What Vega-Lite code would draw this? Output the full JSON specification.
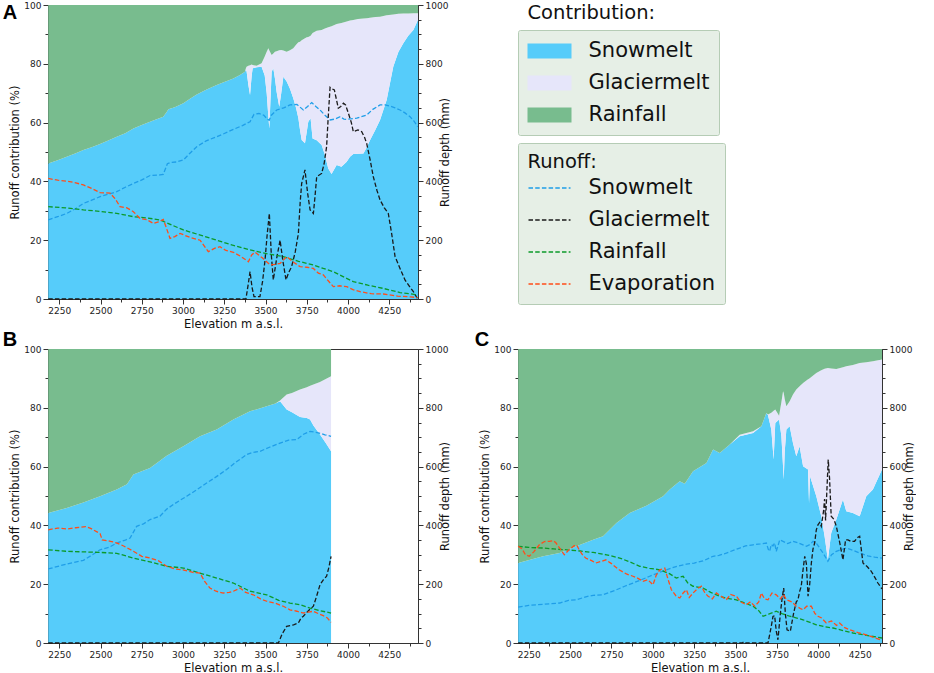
{
  "$schema": "https://vega.github.io/schema/vega-lite/v6.json",
  "padding": {"left": 2, "top": 0, "right": 0, "bottom": 0},
  "config": {
    "font": "DejaVu Sans",
    "view": {"stroke": "#333", "strokeWidth": 1},
    "axis": {"grid": false, "domainColor": "#333", "tickColor": "#333", "labelColor": "#222", "titleColor": "#111",
      "labelFont": "DejaVu Sans", "titleFont": "DejaVu Sans", "labelFontSize": 9, "titleFontSize": 11.5,
      "titleFontWeight": "normal", "labelPadding": 2, "titlePadding": 3, "labelFlush": false, "labelOverlap": false},
    "legend": {"fillColor": "#e6efe6", "strokeColor": "#b5ccb5", "cornerRadius": 2, "padding": 9.5,
      "labelFont": "DejaVu Sans", "titleFont": "DejaVu Sans", "labelFontSize": 21, "titleFontSize": 19.5,
      "titleFontWeight": "normal", "labelColor": "#111", "titleColor": "#111", "labelLimit": 0, "symbolOpacity": 1},
    "title": {"font": "Liberation Sans", "fontSize": 20, "fontWeight": "bold", "anchor": "start", "frame": "bounds",
      "baseline": "alphabetic", "offset": 0, "color": "#000"},
    "line": {"strokeDash": [4.5, 2.2], "strokeWidth": 1.3}
  },
  "datasets": {
    "areas": [
      {"p":"A","e":2183,"s":46.1,"t":46.1},{"p":"A","e":2240,"s":47.2,"t":47.2},{"p":"A","e":2295,"s":48.4,"t":48.4},
      {"p":"A","e":2350,"s":49.6,"t":49.6},{"p":"A","e":2396,"s":50.7,"t":50.7},{"p":"A","e":2450,"s":51.7,"t":51.7},
      {"p":"A","e":2497,"s":52.7,"t":52.7},{"p":"A","e":2550,"s":54.0,"t":54.0},{"p":"A","e":2598,"s":55.2,"t":55.2},
      {"p":"A","e":2650,"s":56.4,"t":56.4},{"p":"A","e":2699,"s":58.0,"t":58.0},{"p":"A","e":2750,"s":59.2,"t":59.2},
      {"p":"A","e":2800,"s":60.3,"t":60.3},{"p":"A","e":2880,"s":62.0,"t":62.0},{"p":"A","e":2900,"s":63.5,"t":63.5},
      {"p":"A","e":2911,"s":64.5,"t":64.5},{"p":"A","e":2950,"s":65.2,"t":65.2},{"p":"A","e":3002,"s":66.6,"t":66.6},
      {"p":"A","e":3040,"s":68.0,"t":68.0},{"p":"A","e":3083,"s":69.6,"t":69.6},{"p":"A","e":3140,"s":71.2,"t":71.2},
      {"p":"A","e":3204,"s":72.8,"t":72.8},{"p":"A","e":3250,"s":73.8,"t":73.8},{"p":"A","e":3305,"s":75.0,"t":75.0},
      {"p":"A","e":3345,"s":76.2,"t":76.2},{"p":"A","e":3375,"s":77.3,"t":77.3},{"p":"A","e":3381,"s":77.9,"t":78.5},
      {"p":"A","e":3385,"s":77.5,"t":79.0},{"p":"A","e":3396,"s":72.8,"t":79.3},{"p":"A","e":3406,"s":69.4,"t":79.5},
      {"p":"A","e":3416,"s":76.0,"t":79.8},{"p":"A","e":3422,"s":78.5,"t":79.6},{"p":"A","e":3446,"s":78.8,"t":79.3},
      {"p":"A","e":3476,"s":79.0,"t":80.2},{"p":"A","e":3495,"s":76.0,"t":82.5},{"p":"A","e":3507,"s":70.0,"t":84.1},
      {"p":"A","e":3517,"s":62.0,"t":85.3},{"p":"A","e":3523,"s":58.0,"t":84.5},{"p":"A","e":3530,"s":68.0,"t":83.8},
      {"p":"A","e":3537,"s":77.3,"t":83.0},{"p":"A","e":3547,"s":78.5,"t":83.5},{"p":"A","e":3557,"s":75.0,"t":84.1},
      {"p":"A","e":3567,"s":70.5,"t":84.3},{"p":"A","e":3583,"s":65.4,"t":84.6},{"p":"A","e":3595,"s":70.0,"t":84.7},
      {"p":"A","e":3608,"s":75.6,"t":84.5},{"p":"A","e":3628,"s":74.0,"t":84.1},{"p":"A","e":3648,"s":71.5,"t":84.6},
      {"p":"A","e":3668,"s":68.3,"t":85.3},{"p":"A","e":3685,"s":65.0,"t":86.5},{"p":"A","e":3699,"s":61.5,"t":87.3},
      {"p":"A","e":3709,"s":57.5,"t":87.5},{"p":"A","e":3719,"s":54.1,"t":88.0},{"p":"A","e":3739,"s":53.0,"t":88.7},
      {"p":"A","e":3750,"s":57.0,"t":89.0},{"p":"A","e":3759,"s":60.3,"t":89.1},{"p":"A","e":3773,"s":61.5,"t":89.5},
      {"p":"A","e":3785,"s":54.6,"t":90.5},{"p":"A","e":3810,"s":54.0,"t":91.2},{"p":"A","e":3840,"s":52.4,"t":91.5},
      {"p":"A","e":3860,"s":49.0,"t":92.0},{"p":"A","e":3880,"s":44.4,"t":92.4},{"p":"A","e":3900,"s":42.5,"t":92.8},
      {"p":"A","e":3931,"s":45.6,"t":93.5},{"p":"A","e":3960,"s":45.0,"t":93.9},{"p":"A","e":3992,"s":46.7,"t":94.4},
      {"p":"A","e":4012,"s":48.4,"t":94.7},{"p":"A","e":4032,"s":49.3,"t":94.9},{"p":"A","e":4060,"s":49.4,"t":95.2},
      {"p":"A","e":4093,"s":49.5,"t":95.4},{"p":"A","e":4113,"s":51.5,"t":95.5},{"p":"A","e":4133,"s":54.0,"t":95.7},
      {"p":"A","e":4165,"s":57.5,"t":95.9},{"p":"A","e":4194,"s":60.9,"t":96.0},{"p":"A","e":4234,"s":67.7,"t":96.5},
      {"p":"A","e":4274,"s":79.0,"t":96.8},{"p":"A","e":4305,"s":84.0,"t":97.0},{"p":"A","e":4335,"s":87.0,"t":97.1},
      {"p":"A","e":4365,"s":89.5,"t":97.1},{"p":"A","e":4396,"s":91.5,"t":97.2},{"p":"A","e":4424,"s":95.0,"t":97.2},

      {"p":"B","e":2183,"s":44.2,"t":44.2},{"p":"B","e":2295,"s":45.9,"t":45.9},{"p":"B","e":2396,"s":47.8,"t":47.8},
      {"p":"B","e":2497,"s":49.9,"t":49.9},{"p":"B","e":2598,"s":52.2,"t":52.2},{"p":"B","e":2660,"s":54.0,"t":54.0},
      {"p":"B","e":2699,"s":57.3,"t":57.3},{"p":"B","e":2800,"s":59.5,"t":59.5},{"p":"B","e":2901,"s":63.7,"t":63.7},
      {"p":"B","e":3002,"s":66.9,"t":66.9},{"p":"B","e":3103,"s":70.3,"t":70.3},{"p":"B","e":3204,"s":72.6,"t":72.6},
      {"p":"B","e":3305,"s":76.0,"t":76.0},{"p":"B","e":3406,"s":78.8,"t":78.8},{"p":"B","e":3507,"s":80.5,"t":80.5},
      {"p":"B","e":3560,"s":81.5,"t":81.5},{"p":"B","e":3588,"s":82.2,"t":82.5},{"p":"B","e":3628,"s":79.4,"t":84.5},
      {"p":"B","e":3660,"s":78.5,"t":85.0},{"p":"B","e":3709,"s":76.9,"t":86.2},{"p":"B","e":3750,"s":76.5,"t":87.0},
      {"p":"B","e":3770,"s":76.0,"t":87.5},{"p":"B","e":3790,"s":74.0,"t":87.9},{"p":"B","e":3830,"s":70.9,"t":88.8},
      {"p":"B","e":3865,"s":68.0,"t":89.8},{"p":"B","e":3897,"s":65.2,"t":90.7},

      {"p":"C","e":2186,"s":27.2,"t":27.2},{"p":"C","e":2337,"s":29.5,"t":29.5},{"p":"C","e":2437,"s":30.6,"t":30.6},
      {"p":"C","e":2538,"s":32.9,"t":32.9},{"p":"C","e":2639,"s":35.1,"t":35.1},{"p":"C","e":2699,"s":36.3,"t":36.3},
      {"p":"C","e":2780,"s":40.8,"t":40.8},{"p":"C","e":2860,"s":44.2,"t":44.2},{"p":"C","e":2961,"s":46.7,"t":46.7},
      {"p":"C","e":3062,"s":49.9,"t":49.9},{"p":"C","e":3102,"s":52.2,"t":52.2},{"p":"C","e":3162,"s":55.0,"t":55.0},
      {"p":"C","e":3193,"s":54.2,"t":54.2},{"p":"C","e":3243,"s":58.4,"t":58.4},{"p":"C","e":3324,"s":61.2,"t":61.2},
      {"p":"C","e":3364,"s":65.8,"t":65.8},{"p":"C","e":3404,"s":64.6,"t":64.6},{"p":"C","e":3465,"s":67.5,"t":67.5},
      {"p":"C","e":3525,"s":70.3,"t":70.8},{"p":"C","e":3606,"s":71.4,"t":72.0},{"p":"C","e":3656,"s":73.7,"t":73.7},
      {"p":"C","e":3686,"s":78.2,"t":78.2},{"p":"C","e":3696,"s":77.5,"t":77.7},{"p":"C","e":3716,"s":72.6,"t":78.3},
      {"p":"C","e":3730,"s":62.4,"t":79.0},{"p":"C","e":3740,"s":74.8,"t":79.4},{"p":"C","e":3763,"s":76.0,"t":77.3},
      {"p":"C","e":3777,"s":70.3,"t":82.0},{"p":"C","e":3787,"s":60.0,"t":85.6},{"p":"C","e":3791,"s":55.6,"t":85.0},
      {"p":"C","e":3797,"s":65.0,"t":83.0},{"p":"C","e":3807,"s":72.6,"t":80.5},{"p":"C","e":3827,"s":73.7,"t":82.2},
      {"p":"C","e":3847,"s":68.0,"t":84.5},{"p":"C","e":3867,"s":63.5,"t":86.2},{"p":"C","e":3887,"s":66.9,"t":87.3},
      {"p":"C","e":3908,"s":60.1,"t":88.4},{"p":"C","e":3938,"s":59.0,"t":89.7},{"p":"C","e":3944,"s":47.6,"t":89.9},
      {"p":"C","e":3950,"s":56.7,"t":90.1},{"p":"C","e":3988,"s":49.9,"t":91.8},{"p":"C","e":4018,"s":43.1,"t":92.8},
      {"p":"C","e":4038,"s":36.3,"t":93.3},{"p":"C","e":4058,"s":28.3,"t":93.5},{"p":"C","e":4078,"s":37.4,"t":93.4},
      {"p":"C","e":4109,"s":42.0,"t":93.2},{"p":"C","e":4149,"s":48.8,"t":93.8},{"p":"C","e":4169,"s":44.8,"t":94.1},
      {"p":"C","e":4209,"s":44.2,"t":94.6},{"p":"C","e":4250,"s":43.1,"t":95.2},{"p":"C","e":4290,"s":49.9,"t":95.5},
      {"p":"C","e":4330,"s":52.2,"t":95.8},{"p":"C","e":4385,"s":59.0,"t":96.4}
    ],
    "lines": [
      {"p":"A","k":"Snowmelt","e":2183,"v":269},{"p":"A","k":"Snowmelt","e":2240,"v":280},{"p":"A","k":"Snowmelt","e":2295,"v":291},
      {"p":"A","k":"Snowmelt","e":2350,"v":308},{"p":"A","k":"Snowmelt","e":2396,"v":325},{"p":"A","k":"Snowmelt","e":2450,"v":337},
      {"p":"A","k":"Snowmelt","e":2497,"v":348},{"p":"A","k":"Snowmelt","e":2550,"v":357},{"p":"A","k":"Snowmelt","e":2598,"v":365},
      {"p":"A","k":"Snowmelt","e":2650,"v":380},{"p":"A","k":"Snowmelt","e":2699,"v":393},{"p":"A","k":"Snowmelt","e":2750,"v":405},
      {"p":"A","k":"Snowmelt","e":2800,"v":420},{"p":"A","k":"Snowmelt","e":2860,"v":422},{"p":"A","k":"Snowmelt","e":2880,"v":424},
      {"p":"A","k":"Snowmelt","e":2905,"v":460},{"p":"A","k":"Snowmelt","e":2921,"v":464},{"p":"A","k":"Snowmelt","e":2960,"v":466},
      {"p":"A","k":"Snowmelt","e":3002,"v":473},{"p":"A","k":"Snowmelt","e":3040,"v":495},{"p":"A","k":"Snowmelt","e":3083,"v":518},
      {"p":"A","k":"Snowmelt","e":3140,"v":538},{"p":"A","k":"Snowmelt","e":3204,"v":552},{"p":"A","k":"Snowmelt","e":3250,"v":563},
      {"p":"A","k":"Snowmelt","e":3305,"v":577},{"p":"A","k":"Snowmelt","e":3360,"v":590},{"p":"A","k":"Snowmelt","e":3406,"v":603},
      {"p":"A","k":"Snowmelt","e":3430,"v":628},{"p":"A","k":"Snowmelt","e":3460,"v":631},{"p":"A","k":"Snowmelt","e":3490,"v":625},
      {"p":"A","k":"Snowmelt","e":3510,"v":612},{"p":"A","k":"Snowmelt","e":3522,"v":608},{"p":"A","k":"Snowmelt","e":3535,"v":625},
      {"p":"A","k":"Snowmelt","e":3568,"v":643},{"p":"A","k":"Snowmelt","e":3610,"v":650},{"p":"A","k":"Snowmelt","e":3648,"v":660},
      {"p":"A","k":"Snowmelt","e":3690,"v":662},{"p":"A","k":"Snowmelt","e":3729,"v":643},{"p":"A","k":"Snowmelt","e":3755,"v":655},
      {"p":"A","k":"Snowmelt","e":3780,"v":668},{"p":"A","k":"Snowmelt","e":3805,"v":655},{"p":"A","k":"Snowmelt","e":3830,"v":643},
      {"p":"A","k":"Snowmelt","e":3860,"v":625},{"p":"A","k":"Snowmelt","e":3891,"v":609},{"p":"A","k":"Snowmelt","e":3920,"v":612},
      {"p":"A","k":"Snowmelt","e":3952,"v":620},{"p":"A","k":"Snowmelt","e":3975,"v":612},{"p":"A","k":"Snowmelt","e":3992,"v":611},
      {"p":"A","k":"Snowmelt","e":4053,"v":615},{"p":"A","k":"Snowmelt","e":4113,"v":626},{"p":"A","k":"Snowmelt","e":4150,"v":645},
      {"p":"A","k":"Snowmelt","e":4194,"v":660},{"p":"A","k":"Snowmelt","e":4225,"v":660},{"p":"A","k":"Snowmelt","e":4255,"v":656},
      {"p":"A","k":"Snowmelt","e":4285,"v":650},{"p":"A","k":"Snowmelt","e":4315,"v":643},{"p":"A","k":"Snowmelt","e":4345,"v":633},
      {"p":"A","k":"Snowmelt","e":4376,"v":620},{"p":"A","k":"Snowmelt","e":4400,"v":605},{"p":"A","k":"Snowmelt","e":4422,"v":586},

      {"p":"A","k":"Glaciermelt","e":2183,"v":0},{"p":"A","k":"Glaciermelt","e":3381,"v":0},{"p":"A","k":"Glaciermelt","e":3395,"v":50},
      {"p":"A","k":"Glaciermelt","e":3406,"v":93},{"p":"A","k":"Glaciermelt","e":3418,"v":40},{"p":"A","k":"Glaciermelt","e":3430,"v":8},
      {"p":"A","k":"Glaciermelt","e":3466,"v":8},{"p":"A","k":"Glaciermelt","e":3482,"v":60},{"p":"A","k":"Glaciermelt","e":3497,"v":133},
      {"p":"A","k":"Glaciermelt","e":3510,"v":220},{"p":"A","k":"Glaciermelt","e":3523,"v":291},{"p":"A","k":"Glaciermelt","e":3535,"v":150},
      {"p":"A","k":"Glaciermelt","e":3547,"v":65},{"p":"A","k":"Glaciermelt","e":3568,"v":140},{"p":"A","k":"Glaciermelt","e":3588,"v":200},
      {"p":"A","k":"Glaciermelt","e":3605,"v":130},{"p":"A","k":"Glaciermelt","e":3624,"v":65},{"p":"A","k":"Glaciermelt","e":3640,"v":90},
      {"p":"A","k":"Glaciermelt","e":3658,"v":110},{"p":"A","k":"Glaciermelt","e":3680,"v":160},{"p":"A","k":"Glaciermelt","e":3699,"v":223},
      {"p":"A","k":"Glaciermelt","e":3710,"v":330},{"p":"A","k":"Glaciermelt","e":3719,"v":393},{"p":"A","k":"Glaciermelt","e":3739,"v":439},
      {"p":"A","k":"Glaciermelt","e":3755,"v":360},{"p":"A","k":"Glaciermelt","e":3770,"v":303},{"p":"A","k":"Glaciermelt","e":3790,"v":291},
      {"p":"A","k":"Glaciermelt","e":3800,"v":350},{"p":"A","k":"Glaciermelt","e":3810,"v":416},{"p":"A","k":"Glaciermelt","e":3840,"v":427},
      {"p":"A","k":"Glaciermelt","e":3855,"v":460},{"p":"A","k":"Glaciermelt","e":3870,"v":518},{"p":"A","k":"Glaciermelt","e":3880,"v":620},
      {"p":"A","k":"Glaciermelt","e":3891,"v":720},{"p":"A","k":"Glaciermelt","e":3903,"v":715},{"p":"A","k":"Glaciermelt","e":3917,"v":711},
      {"p":"A","k":"Glaciermelt","e":3941,"v":649},{"p":"A","k":"Glaciermelt","e":3956,"v":655},{"p":"A","k":"Glaciermelt","e":3972,"v":666},
      {"p":"A","k":"Glaciermelt","e":3985,"v":660},{"p":"A","k":"Glaciermelt","e":4002,"v":632},{"p":"A","k":"Glaciermelt","e":4020,"v":600},
      {"p":"A","k":"Glaciermelt","e":4032,"v":569},{"p":"A","k":"Glaciermelt","e":4060,"v":575},{"p":"A","k":"Glaciermelt","e":4083,"v":569},
      {"p":"A","k":"Glaciermelt","e":4100,"v":550},{"p":"A","k":"Glaciermelt","e":4113,"v":529},{"p":"A","k":"Glaciermelt","e":4135,"v":470},
      {"p":"A","k":"Glaciermelt","e":4153,"v":416},{"p":"A","k":"Glaciermelt","e":4175,"v":370},{"p":"A","k":"Glaciermelt","e":4194,"v":337},
      {"p":"A","k":"Glaciermelt","e":4220,"v":310},{"p":"A","k":"Glaciermelt","e":4244,"v":291},{"p":"A","k":"Glaciermelt","e":4265,"v":220},
      {"p":"A","k":"Glaciermelt","e":4285,"v":144},{"p":"A","k":"Glaciermelt","e":4315,"v":104},{"p":"A","k":"Glaciermelt","e":4345,"v":65},
      {"p":"A","k":"Glaciermelt","e":4370,"v":45},{"p":"A","k":"Glaciermelt","e":4396,"v":25},{"p":"A","k":"Glaciermelt","e":4422,"v":0},

      {"p":"A","k":"Rainfall","e":2183,"v":314},{"p":"A","k":"Rainfall","e":2290,"v":310},{"p":"A","k":"Rainfall","e":2396,"v":303},
      {"p":"A","k":"Rainfall","e":2500,"v":298},{"p":"A","k":"Rainfall","e":2598,"v":291},{"p":"A","k":"Rainfall","e":2699,"v":280},
      {"p":"A","k":"Rainfall","e":2780,"v":276},{"p":"A","k":"Rainfall","e":2860,"v":269},{"p":"A","k":"Rainfall","e":2930,"v":252},
      {"p":"A","k":"Rainfall","e":3002,"v":235},{"p":"A","k":"Rainfall","e":3100,"v":218},{"p":"A","k":"Rainfall","e":3204,"v":200},
      {"p":"A","k":"Rainfall","e":3300,"v":183},{"p":"A","k":"Rainfall","e":3406,"v":167},{"p":"A","k":"Rainfall","e":3500,"v":155},
      {"p":"A","k":"Rainfall","e":3608,"v":144},{"p":"A","k":"Rainfall","e":3700,"v":128},{"p":"A","k":"Rainfall","e":3790,"v":116},
      {"p":"A","k":"Rainfall","e":3850,"v":104},{"p":"A","k":"Rainfall","e":3911,"v":93},{"p":"A","k":"Rainfall","e":3970,"v":76},
      {"p":"A","k":"Rainfall","e":4032,"v":59},{"p":"A","k":"Rainfall","e":4120,"v":47},{"p":"A","k":"Rainfall","e":4214,"v":36},
      {"p":"A","k":"Rainfall","e":4315,"v":22},{"p":"A","k":"Rainfall","e":4370,"v":18},{"p":"A","k":"Rainfall","e":4422,"v":14},

      {"p":"A","k":"Evaporation","e":2183,"v":410},{"p":"A","k":"Evaporation","e":2240,"v":404},{"p":"A","k":"Evaporation","e":2295,"v":401},
      {"p":"A","k":"Evaporation","e":2350,"v":395},{"p":"A","k":"Evaporation","e":2396,"v":388},{"p":"A","k":"Evaporation","e":2450,"v":375},
      {"p":"A","k":"Evaporation","e":2497,"v":362},{"p":"A","k":"Evaporation","e":2558,"v":360},{"p":"A","k":"Evaporation","e":2590,"v":340},
      {"p":"A","k":"Evaporation","e":2618,"v":314},{"p":"A","k":"Evaporation","e":2660,"v":310},{"p":"A","k":"Evaporation","e":2699,"v":297},
      {"p":"A","k":"Evaporation","e":2739,"v":274},{"p":"A","k":"Evaporation","e":2780,"v":270},{"p":"A","k":"Evaporation","e":2820,"v":257},
      {"p":"A","k":"Evaporation","e":2850,"v":262},{"p":"A","k":"Evaporation","e":2880,"v":271},{"p":"A","k":"Evaporation","e":2900,"v":240},
      {"p":"A","k":"Evaporation","e":2921,"v":206},{"p":"A","k":"Evaporation","e":2950,"v":212},{"p":"A","k":"Evaporation","e":2982,"v":223},
      {"p":"A","k":"Evaporation","e":3040,"v":210},{"p":"A","k":"Evaporation","e":3103,"v":200},{"p":"A","k":"Evaporation","e":3153,"v":161},
      {"p":"A","k":"Evaporation","e":3190,"v":172},{"p":"A","k":"Evaporation","e":3224,"v":178},{"p":"A","k":"Evaporation","e":3260,"v":165},
      {"p":"A","k":"Evaporation","e":3305,"v":159},{"p":"A","k":"Evaporation","e":3350,"v":145},{"p":"A","k":"Evaporation","e":3396,"v":127},
      {"p":"A","k":"Evaporation","e":3416,"v":150},{"p":"A","k":"Evaporation","e":3436,"v":159},{"p":"A","k":"Evaporation","e":3480,"v":140},
      {"p":"A","k":"Evaporation","e":3527,"v":116},{"p":"A","k":"Evaporation","e":3560,"v":118},{"p":"A","k":"Evaporation","e":3588,"v":121},
      {"p":"A","k":"Evaporation","e":3628,"v":144},{"p":"A","k":"Evaporation","e":3670,"v":125},{"p":"A","k":"Evaporation","e":3709,"v":110},
      {"p":"A","k":"Evaporation","e":3750,"v":108},{"p":"A","k":"Evaporation","e":3790,"v":104},{"p":"A","k":"Evaporation","e":3820,"v":88},
      {"p":"A","k":"Evaporation","e":3850,"v":82},{"p":"A","k":"Evaporation","e":3880,"v":62},{"p":"A","k":"Evaporation","e":3911,"v":42},
      {"p":"A","k":"Evaporation","e":3950,"v":45},{"p":"A","k":"Evaporation","e":3992,"v":42},{"p":"A","k":"Evaporation","e":4030,"v":32},
      {"p":"A","k":"Evaporation","e":4073,"v":25},{"p":"A","k":"Evaporation","e":4140,"v":18},{"p":"A","k":"Evaporation","e":4214,"v":17},
      {"p":"A","k":"Evaporation","e":4300,"v":10},{"p":"A","k":"Evaporation","e":4380,"v":7},{"p":"A","k":"Evaporation","e":4422,"v":5},

      {"p":"B","k":"Snowmelt","e":2183,"v":252},{"p":"B","k":"Snowmelt","e":2250,"v":262},{"p":"B","k":"Snowmelt","e":2320,"v":272},
      {"p":"B","k":"Snowmelt","e":2396,"v":281},{"p":"B","k":"Snowmelt","e":2450,"v":300},{"p":"B","k":"Snowmelt","e":2497,"v":317},
      {"p":"B","k":"Snowmelt","e":2550,"v":325},{"p":"B","k":"Snowmelt","e":2598,"v":340},{"p":"B","k":"Snowmelt","e":2650,"v":350},
      {"p":"B","k":"Snowmelt","e":2679,"v":357},{"p":"B","k":"Snowmelt","e":2719,"v":397},{"p":"B","k":"Snowmelt","e":2760,"v":405},
      {"p":"B","k":"Snowmelt","e":2800,"v":420},{"p":"B","k":"Snowmelt","e":2860,"v":431},{"p":"B","k":"Snowmelt","e":2900,"v":455},
      {"p":"B","k":"Snowmelt","e":2941,"v":471},{"p":"B","k":"Snowmelt","e":2980,"v":485},{"p":"B","k":"Snowmelt","e":3022,"v":499},
      {"p":"B","k":"Snowmelt","e":3080,"v":520},{"p":"B","k":"Snowmelt","e":3143,"v":544},{"p":"B","k":"Snowmelt","e":3200,"v":565},
      {"p":"B","k":"Snowmelt","e":3264,"v":590},{"p":"B","k":"Snowmelt","e":3320,"v":615},{"p":"B","k":"Snowmelt","e":3386,"v":641},
      {"p":"B","k":"Snowmelt","e":3420,"v":648},{"p":"B","k":"Snowmelt","e":3467,"v":652},{"p":"B","k":"Snowmelt","e":3520,"v":665},
      {"p":"B","k":"Snowmelt","e":3588,"v":680},{"p":"B","k":"Snowmelt","e":3640,"v":690},{"p":"B","k":"Snowmelt","e":3689,"v":692},
      {"p":"B","k":"Snowmelt","e":3730,"v":710},{"p":"B","k":"Snowmelt","e":3770,"v":720},{"p":"B","k":"Snowmelt","e":3820,"v":715},
      {"p":"B","k":"Snowmelt","e":3860,"v":708},{"p":"B","k":"Snowmelt","e":3897,"v":703},

      {"p":"B","k":"Glaciermelt","e":2183,"v":0},{"p":"B","k":"Glaciermelt","e":3578,"v":0},{"p":"B","k":"Glaciermelt","e":3600,"v":30},
      {"p":"B","k":"Glaciermelt","e":3628,"v":57},{"p":"B","k":"Glaciermelt","e":3670,"v":62},{"p":"B","k":"Glaciermelt","e":3699,"v":68},
      {"p":"B","k":"Glaciermelt","e":3715,"v":85},{"p":"B","k":"Glaciermelt","e":3729,"v":91},{"p":"B","k":"Glaciermelt","e":3760,"v":110},
      {"p":"B","k":"Glaciermelt","e":3790,"v":125},{"p":"B","k":"Glaciermelt","e":3810,"v":160},{"p":"B","k":"Glaciermelt","e":3830,"v":198},
      {"p":"B","k":"Glaciermelt","e":3850,"v":215},{"p":"B","k":"Glaciermelt","e":3870,"v":227},{"p":"B","k":"Glaciermelt","e":3885,"v":260},
      {"p":"B","k":"Glaciermelt","e":3897,"v":295},

      {"p":"B","k":"Rainfall","e":2183,"v":317},{"p":"B","k":"Rainfall","e":2290,"v":312},{"p":"B","k":"Rainfall","e":2396,"v":310},
      {"p":"B","k":"Rainfall","e":2500,"v":308},{"p":"B","k":"Rainfall","e":2598,"v":305},{"p":"B","k":"Rainfall","e":2699,"v":289},
      {"p":"B","k":"Rainfall","e":2800,"v":276},{"p":"B","k":"Rainfall","e":2901,"v":261},{"p":"B","k":"Rainfall","e":3002,"v":255},
      {"p":"B","k":"Rainfall","e":3100,"v":238},{"p":"B","k":"Rainfall","e":3204,"v":221},{"p":"B","k":"Rainfall","e":3305,"v":204},
      {"p":"B","k":"Rainfall","e":3406,"v":176},{"p":"B","k":"Rainfall","e":3507,"v":164},{"p":"B","k":"Rainfall","e":3580,"v":145},
      {"p":"B","k":"Rainfall","e":3648,"v":136},{"p":"B","k":"Rainfall","e":3710,"v":130},{"p":"B","k":"Rainfall","e":3770,"v":119},
      {"p":"B","k":"Rainfall","e":3830,"v":110},{"p":"B","k":"Rainfall","e":3897,"v":102},

      {"p":"B","k":"Evaporation","e":2183,"v":385},{"p":"B","k":"Evaporation","e":2240,"v":391},{"p":"B","k":"Evaporation","e":2300,"v":388},
      {"p":"B","k":"Evaporation","e":2350,"v":392},{"p":"B","k":"Evaporation","e":2410,"v":396},{"p":"B","k":"Evaporation","e":2440,"v":390},
      {"p":"B","k":"Evaporation","e":2497,"v":372},{"p":"B","k":"Evaporation","e":2510,"v":351},{"p":"B","k":"Evaporation","e":2560,"v":346},
      {"p":"B","k":"Evaporation","e":2600,"v":340},{"p":"B","k":"Evaporation","e":2640,"v":330},{"p":"B","k":"Evaporation","e":2699,"v":312},
      {"p":"B","k":"Evaporation","e":2750,"v":295},{"p":"B","k":"Evaporation","e":2800,"v":289},{"p":"B","k":"Evaporation","e":2850,"v":280},
      {"p":"B","k":"Evaporation","e":2901,"v":261},{"p":"B","k":"Evaporation","e":2950,"v":252},{"p":"B","k":"Evaporation","e":3000,"v":249},
      {"p":"B","k":"Evaporation","e":3060,"v":240},{"p":"B","k":"Evaporation","e":3103,"v":238},{"p":"B","k":"Evaporation","e":3130,"v":210},
      {"p":"B","k":"Evaporation","e":3163,"v":187},{"p":"B","k":"Evaporation","e":3200,"v":176},{"p":"B","k":"Evaporation","e":3244,"v":170},
      {"p":"B","k":"Evaporation","e":3280,"v":172},{"p":"B","k":"Evaporation","e":3305,"v":176},{"p":"B","k":"Evaporation","e":3345,"v":187},
      {"p":"B","k":"Evaporation","e":3380,"v":172},{"p":"B","k":"Evaporation","e":3426,"v":164},{"p":"B","k":"Evaporation","e":3470,"v":150},
      {"p":"B","k":"Evaporation","e":3507,"v":142},{"p":"B","k":"Evaporation","e":3560,"v":135},{"p":"B","k":"Evaporation","e":3608,"v":125},
      {"p":"B","k":"Evaporation","e":3648,"v":113},{"p":"B","k":"Evaporation","e":3690,"v":108},{"p":"B","k":"Evaporation","e":3729,"v":102},
      {"p":"B","k":"Evaporation","e":3760,"v":105},{"p":"B","k":"Evaporation","e":3790,"v":108},{"p":"B","k":"Evaporation","e":3820,"v":100},
      {"p":"B","k":"Evaporation","e":3850,"v":93},{"p":"B","k":"Evaporation","e":3875,"v":85},{"p":"B","k":"Evaporation","e":3897,"v":70},

      {"p":"C","k":"Snowmelt","e":2186,"v":122},{"p":"C","k":"Snowmelt","e":2250,"v":128},{"p":"C","k":"Snowmelt","e":2340,"v":132},
      {"p":"C","k":"Snowmelt","e":2437,"v":136},{"p":"C","k":"Snowmelt","e":2490,"v":145},{"p":"C","k":"Snowmelt","e":2538,"v":147},
      {"p":"C","k":"Snowmelt","e":2600,"v":158},{"p":"C","k":"Snowmelt","e":2639,"v":162},{"p":"C","k":"Snowmelt","e":2699,"v":164},
      {"p":"C","k":"Snowmelt","e":2780,"v":181},{"p":"C","k":"Snowmelt","e":2830,"v":193},{"p":"C","k":"Snowmelt","e":2880,"v":204},
      {"p":"C","k":"Snowmelt","e":2930,"v":215},{"p":"C","k":"Snowmelt","e":2981,"v":227},{"p":"C","k":"Snowmelt","e":3030,"v":238},
      {"p":"C","k":"Snowmelt","e":3082,"v":249},{"p":"C","k":"Snowmelt","e":3140,"v":260},{"p":"C","k":"Snowmelt","e":3203,"v":268},
      {"p":"C","k":"Snowmelt","e":3250,"v":272},{"p":"C","k":"Snowmelt","e":3303,"v":279},{"p":"C","k":"Snowmelt","e":3364,"v":295},
      {"p":"C","k":"Snowmelt","e":3400,"v":298},{"p":"C","k":"Snowmelt","e":3444,"v":306},{"p":"C","k":"Snowmelt","e":3500,"v":318},
      {"p":"C","k":"Snowmelt","e":3525,"v":323},{"p":"C","k":"Snowmelt","e":3560,"v":330},{"p":"C","k":"Snowmelt","e":3606,"v":334},
      {"p":"C","k":"Snowmelt","e":3650,"v":337},{"p":"C","k":"Snowmelt","e":3686,"v":340},{"p":"C","k":"Snowmelt","e":3698,"v":318},
      {"p":"C","k":"Snowmelt","e":3706,"v":312},{"p":"C","k":"Snowmelt","e":3716,"v":335},{"p":"C","k":"Snowmelt","e":3726,"v":330},
      {"p":"C","k":"Snowmelt","e":3736,"v":340},{"p":"C","k":"Snowmelt","e":3746,"v":312},{"p":"C","k":"Snowmelt","e":3756,"v":330},
      {"p":"C","k":"Snowmelt","e":3767,"v":351},{"p":"C","k":"Snowmelt","e":3790,"v":345},{"p":"C","k":"Snowmelt","e":3815,"v":338},
      {"p":"C","k":"Snowmelt","e":3847,"v":346},{"p":"C","k":"Snowmelt","e":3880,"v":340},{"p":"C","k":"Snowmelt","e":3928,"v":329},
      {"p":"C","k":"Snowmelt","e":3950,"v":335},{"p":"C","k":"Snowmelt","e":3968,"v":346},{"p":"C","k":"Snowmelt","e":3990,"v":338},
      {"p":"C","k":"Snowmelt","e":4008,"v":323},{"p":"C","k":"Snowmelt","e":4030,"v":305},{"p":"C","k":"Snowmelt","e":4058,"v":278},
      {"p":"C","k":"Snowmelt","e":4080,"v":300},{"p":"C","k":"Snowmelt","e":4109,"v":312},{"p":"C","k":"Snowmelt","e":4140,"v":318},
      {"p":"C","k":"Snowmelt","e":4169,"v":323},{"p":"C","k":"Snowmelt","e":4210,"v":315},{"p":"C","k":"Snowmelt","e":4250,"v":306},
      {"p":"C","k":"Snowmelt","e":4300,"v":296},{"p":"C","k":"Snowmelt","e":4340,"v":292},{"p":"C","k":"Snowmelt","e":4385,"v":289},

      {"p":"C","k":"Glaciermelt","e":2186,"v":0},{"p":"C","k":"Glaciermelt","e":3540,"v":0},{"p":"C","k":"Glaciermelt","e":3550,"v":4},
      {"p":"C","k":"Glaciermelt","e":3560,"v":0},{"p":"C","k":"Glaciermelt","e":3696,"v":0},{"p":"C","k":"Glaciermelt","e":3716,"v":57},
      {"p":"C","k":"Glaciermelt","e":3726,"v":90},{"p":"C","k":"Glaciermelt","e":3736,"v":93},{"p":"C","k":"Glaciermelt","e":3746,"v":40},
      {"p":"C","k":"Glaciermelt","e":3756,"v":11},{"p":"C","k":"Glaciermelt","e":3771,"v":102},{"p":"C","k":"Glaciermelt","e":3781,"v":150},
      {"p":"C","k":"Glaciermelt","e":3791,"v":187},{"p":"C","k":"Glaciermelt","e":3801,"v":100},{"p":"C","k":"Glaciermelt","e":3811,"v":45},
      {"p":"C","k":"Glaciermelt","e":3831,"v":40},{"p":"C","k":"Glaciermelt","e":3851,"v":102},{"p":"C","k":"Glaciermelt","e":3867,"v":140},
      {"p":"C","k":"Glaciermelt","e":3877,"v":147},{"p":"C","k":"Glaciermelt","e":3887,"v":175},{"p":"C","k":"Glaciermelt","e":3897,"v":193},
      {"p":"C","k":"Glaciermelt","e":3908,"v":250},{"p":"C","k":"Glaciermelt","e":3918,"v":295},{"p":"C","k":"Glaciermelt","e":3928,"v":270},
      {"p":"C","k":"Glaciermelt","e":3938,"v":159},{"p":"C","k":"Glaciermelt","e":3948,"v":200},{"p":"C","k":"Glaciermelt","e":3958,"v":272},
      {"p":"C","k":"Glaciermelt","e":3968,"v":320},{"p":"C","k":"Glaciermelt","e":3978,"v":340},{"p":"C","k":"Glaciermelt","e":3988,"v":385},
      {"p":"C","k":"Glaciermelt","e":3998,"v":402},{"p":"C","k":"Glaciermelt","e":4008,"v":410},{"p":"C","k":"Glaciermelt","e":4018,"v":397},
      {"p":"C","k":"Glaciermelt","e":4032,"v":450},{"p":"C","k":"Glaciermelt","e":4038,"v":490},{"p":"C","k":"Glaciermelt","e":4044,"v":417},
      {"p":"C","k":"Glaciermelt","e":4052,"v":520},{"p":"C","k":"Glaciermelt","e":4060,"v":624},{"p":"C","k":"Glaciermelt","e":4068,"v":560},
      {"p":"C","k":"Glaciermelt","e":4078,"v":431},{"p":"C","k":"Glaciermelt","e":4095,"v":420},{"p":"C","k":"Glaciermelt","e":4109,"v":397},
      {"p":"C","k":"Glaciermelt","e":4130,"v":340},{"p":"C","k":"Glaciermelt","e":4149,"v":283},{"p":"C","k":"Glaciermelt","e":4165,"v":351},
      {"p":"C","k":"Glaciermelt","e":4179,"v":351},{"p":"C","k":"Glaciermelt","e":4200,"v":345},{"p":"C","k":"Glaciermelt","e":4219,"v":346},
      {"p":"C","k":"Glaciermelt","e":4240,"v":360},{"p":"C","k":"Glaciermelt","e":4250,"v":363},{"p":"C","k":"Glaciermelt","e":4270,"v":272},
      {"p":"C","k":"Glaciermelt","e":4295,"v":260},{"p":"C","k":"Glaciermelt","e":4320,"v":244},{"p":"C","k":"Glaciermelt","e":4345,"v":220},
      {"p":"C","k":"Glaciermelt","e":4360,"v":204},{"p":"C","k":"Glaciermelt","e":4385,"v":184},

      {"p":"C","k":"Rainfall","e":2186,"v":329},{"p":"C","k":"Rainfall","e":2250,"v":325},{"p":"C","k":"Rainfall","e":2337,"v":323},
      {"p":"C","k":"Rainfall","e":2400,"v":320},{"p":"C","k":"Rainfall","e":2478,"v":317},{"p":"C","k":"Rainfall","e":2560,"v":313},
      {"p":"C","k":"Rainfall","e":2639,"v":308},{"p":"C","k":"Rainfall","e":2720,"v":300},{"p":"C","k":"Rainfall","e":2800,"v":289},
      {"p":"C","k":"Rainfall","e":2860,"v":276},{"p":"C","k":"Rainfall","e":2921,"v":261},{"p":"C","k":"Rainfall","e":2980,"v":254},
      {"p":"C","k":"Rainfall","e":3042,"v":249},{"p":"C","k":"Rainfall","e":3100,"v":236},{"p":"C","k":"Rainfall","e":3142,"v":221},
      {"p":"C","k":"Rainfall","e":3160,"v":224},{"p":"C","k":"Rainfall","e":3183,"v":227},{"p":"C","k":"Rainfall","e":3210,"v":205},
      {"p":"C","k":"Rainfall","e":3243,"v":193},{"p":"C","k":"Rainfall","e":3303,"v":187},{"p":"C","k":"Rainfall","e":3350,"v":172},
      {"p":"C","k":"Rainfall","e":3404,"v":159},{"p":"C","k":"Rainfall","e":3450,"v":152},{"p":"C","k":"Rainfall","e":3505,"v":147},
      {"p":"C","k":"Rainfall","e":3560,"v":135},{"p":"C","k":"Rainfall","e":3606,"v":125},{"p":"C","k":"Rainfall","e":3640,"v":110},
      {"p":"C","k":"Rainfall","e":3666,"v":91},{"p":"C","k":"Rainfall","e":3700,"v":98},{"p":"C","k":"Rainfall","e":3746,"v":108},
      {"p":"C","k":"Rainfall","e":3780,"v":100},{"p":"C","k":"Rainfall","e":3827,"v":91},{"p":"C","k":"Rainfall","e":3870,"v":85},
      {"p":"C","k":"Rainfall","e":3908,"v":79},{"p":"C","k":"Rainfall","e":3950,"v":70},{"p":"C","k":"Rainfall","e":3988,"v":62},
      {"p":"C","k":"Rainfall","e":4040,"v":55},{"p":"C","k":"Rainfall","e":4089,"v":51},{"p":"C","k":"Rainfall","e":4150,"v":42},
      {"p":"C","k":"Rainfall","e":4209,"v":34},{"p":"C","k":"Rainfall","e":4300,"v":25},{"p":"C","k":"Rainfall","e":4385,"v":17},

      {"p":"C","k":"Evaporation","e":2186,"v":329},{"p":"C","k":"Evaporation","e":2210,"v":320},{"p":"C","k":"Evaporation","e":2230,"v":300},
      {"p":"C","k":"Evaporation","e":2253,"v":295},{"p":"C","k":"Evaporation","e":2280,"v":310},{"p":"C","k":"Evaporation","e":2314,"v":334},
      {"p":"C","k":"Evaporation","e":2345,"v":345},{"p":"C","k":"Evaporation","e":2374,"v":346},{"p":"C","k":"Evaporation","e":2400,"v":348},
      {"p":"C","k":"Evaporation","e":2415,"v":340},{"p":"C","k":"Evaporation","e":2440,"v":320},{"p":"C","k":"Evaporation","e":2465,"v":300},
      {"p":"C","k":"Evaporation","e":2495,"v":318},{"p":"C","k":"Evaporation","e":2525,"v":331},{"p":"C","k":"Evaporation","e":2540,"v":333},
      {"p":"C","k":"Evaporation","e":2555,"v":317},{"p":"C","k":"Evaporation","e":2575,"v":300},{"p":"C","k":"Evaporation","e":2594,"v":289},
      {"p":"C","k":"Evaporation","e":2630,"v":280},{"p":"C","k":"Evaporation","e":2655,"v":272},{"p":"C","k":"Evaporation","e":2690,"v":278},
      {"p":"C","k":"Evaporation","e":2716,"v":283},{"p":"C","k":"Evaporation","e":2750,"v":270},{"p":"C","k":"Evaporation","e":2796,"v":249},
      {"p":"C","k":"Evaporation","e":2840,"v":235},{"p":"C","k":"Evaporation","e":2880,"v":227},{"p":"C","k":"Evaporation","e":2910,"v":220},
      {"p":"C","k":"Evaporation","e":2941,"v":210},{"p":"C","k":"Evaporation","e":2970,"v":215},{"p":"C","k":"Evaporation","e":3001,"v":198},
      {"p":"C","k":"Evaporation","e":3020,"v":230},{"p":"C","k":"Evaporation","e":3042,"v":249},{"p":"C","k":"Evaporation","e":3072,"v":255},
      {"p":"C","k":"Evaporation","e":3090,"v":220},{"p":"C","k":"Evaporation","e":3112,"v":181},{"p":"C","k":"Evaporation","e":3140,"v":160},
      {"p":"C","k":"Evaporation","e":3163,"v":153},{"p":"C","k":"Evaporation","e":3183,"v":170},{"p":"C","k":"Evaporation","e":3203,"v":181},
      {"p":"C","k":"Evaporation","e":3220,"v":155},{"p":"C","k":"Evaporation","e":3243,"v":170},{"p":"C","k":"Evaporation","e":3270,"v":185},
      {"p":"C","k":"Evaporation","e":3293,"v":193},{"p":"C","k":"Evaporation","e":3315,"v":170},{"p":"C","k":"Evaporation","e":3334,"v":159},
      {"p":"C","k":"Evaporation","e":3360,"v":150},{"p":"C","k":"Evaporation","e":3384,"v":170},{"p":"C","k":"Evaporation","e":3410,"v":160},
      {"p":"C","k":"Evaporation","e":3444,"v":147},{"p":"C","k":"Evaporation","e":3470,"v":165},{"p":"C","k":"Evaporation","e":3505,"v":159},
      {"p":"C","k":"Evaporation","e":3530,"v":140},{"p":"C","k":"Evaporation","e":3565,"v":130},{"p":"C","k":"Evaporation","e":3590,"v":140},
      {"p":"C","k":"Evaporation","e":3616,"v":125},{"p":"C","k":"Evaporation","e":3640,"v":140},{"p":"C","k":"Evaporation","e":3656,"v":170},
      {"p":"C","k":"Evaporation","e":3675,"v":150},{"p":"C","k":"Evaporation","e":3696,"v":147},{"p":"C","k":"Evaporation","e":3720,"v":170},
      {"p":"C","k":"Evaporation","e":3746,"v":164},{"p":"C","k":"Evaporation","e":3770,"v":150},{"p":"C","k":"Evaporation","e":3790,"v":165},
      {"p":"C","k":"Evaporation","e":3807,"v":147},{"p":"C","k":"Evaporation","e":3840,"v":140},{"p":"C","k":"Evaporation","e":3867,"v":125},
      {"p":"C","k":"Evaporation","e":3890,"v":118},{"p":"C","k":"Evaporation","e":3908,"v":113},{"p":"C","k":"Evaporation","e":3930,"v":125},
      {"p":"C","k":"Evaporation","e":3958,"v":125},{"p":"C","k":"Evaporation","e":3980,"v":100},{"p":"C","k":"Evaporation","e":3998,"v":91},
      {"p":"C","k":"Evaporation","e":4020,"v":85},{"p":"C","k":"Evaporation","e":4048,"v":68},{"p":"C","k":"Evaporation","e":4080,"v":75},
      {"p":"C","k":"Evaporation","e":4110,"v":60},{"p":"C","k":"Evaporation","e":4129,"v":68},{"p":"C","k":"Evaporation","e":4160,"v":52},
      {"p":"C","k":"Evaporation","e":4189,"v":45},{"p":"C","k":"Evaporation","e":4240,"v":35},{"p":"C","k":"Evaporation","e":4290,"v":28},
      {"p":"C","k":"Evaporation","e":4340,"v":18},{"p":"C","k":"Evaporation","e":4385,"v":9}
    ]
  },
  "bounds": "flush",
  "spacing": 50,
  "vconcat": [
    {
      "width": 370, "height": 294,
      "title": {"text": "A", "dx": -7, "dy": 26},
      "encoding": {
        "x": {"field": "e", "type": "quantitative", "scale": {"domain": [2181.5, 4424], "nice": false, "zero": false},
          "axis": {"title": "Elevation m a.s.l.", "format": "d", "values": [2250,2375,2500,2625,2750,2875,3000,3125,3250,3375,3500,3625,3750,3875,4000,4125,4250,4375],
            "labelExpr": "datum.value % 250 === 0 ? datum.label : ''", "tickSize": {"condition": {"test": "datum.value % 250 === 0", "value": 5}, "value": 3}}}
      },
      "layer": [
        {
          "data": {"name": "areas"},
          "transform": [{"filter": "datum.p === 'A'"}],
          "layer": [
            {"mark": "area", "encoding": {
              "y": {"field": "s", "type": "quantitative", "scale": {"domain": [0, 100], "nice": false},
                "axis": {"orient": "left", "title": "Runoff contribution (%)", "format": "d", "values": [0,10,20,30,40,50,60,70,80,90,100],
                  "labelExpr": "datum.value % 20 === 0 ? datum.label : ''", "tickSize": {"condition": {"test": "datum.value % 20 === 0", "value": 5}, "value": 3}}},
              "y2": {"datum": 0},
              "fill": {"datum": "Snowmelt", "type": "nominal",
                "scale": {"domain": ["Snowmelt", "Glaciermelt", "Rainfall"], "range": ["#56ccfa", "#e6e6fa", "#78bc8e"]},
                "legend": {"title": "Contribution:", "orient": "none", "legendX": 470, "legendY": 25,
                  "symbolType": "M-1,-0.341H1V0.341H-1Z", "symbolSize": 1936, "symbolStrokeWidth": 0,
                  "labelOffset": 17, "rowPadding": 0, "titlePadding": -30,
                  "encode": {"title": {"update": {"dy": {"value": -36}}}}}}
            }},
            {"mark": "area", "encoding": {
              "y": {"field": "t", "type": "quantitative", "scale": {"domain": [0, 100], "nice": false},
                "axis": {"orient": "left", "title": "Runoff contribution (%)", "format": "d", "values": [0,10,20,30,40,50,60,70,80,90,100],
                  "labelExpr": "datum.value % 20 === 0 ? datum.label : ''", "tickSize": {"condition": {"test": "datum.value % 20 === 0", "value": 5}, "value": 3}}},
              "y2": {"field": "s"},
              "fill": {"datum": "Glaciermelt", "type": "nominal", "legend": null}
            }},
            {"mark": "area", "encoding": {
              "y": {"field": "t", "type": "quantitative", "scale": {"domain": [0, 100], "nice": false},
                "axis": {"orient": "left", "title": "Runoff contribution (%)", "format": "d", "values": [0,10,20,30,40,50,60,70,80,90,100],
                  "labelExpr": "datum.value % 20 === 0 ? datum.label : ''", "tickSize": {"condition": {"test": "datum.value % 20 === 0", "value": 5}, "value": 3}}},
              "y2": {"datum": 100},
              "fill": {"datum": "Rainfall", "type": "nominal", "legend": null}
            }}
          ]
        },
        {
          "data": {"name": "lines"},
          "transform": [{"filter": "datum.p === 'A'"}],
          "layer": [
            {"transform": [{"filter": "datum.k === 'Snowmelt'"}], "mark": "line", "encoding": {
              "y": {"field": "v", "type": "quantitative", "scale": {"domain": [0, 1000], "nice": false},
                "axis": {"orient": "right", "title": "Runoff depth (mm)", "titleAngle": 270, "format": "d",
                  "values": [0,50,100,150,200,250,300,350,400,450,500,550,600,650,700,750,800,850,900,950,1000],
                  "labelExpr": "datum.value % 200 === 0 ? datum.label : ''", "tickSize": {"condition": {"test": "datum.value % 200 === 0", "value": 5}, "value": 3}}},
              "stroke": {"datum": "Snowmelt", "type": "nominal",
                "scale": {"domain": ["Snowmelt", "Glaciermelt", "Rainfall", "Evaporation"], "range": ["#1f9ee8", "#1a1a1a", "#0b9a2a", "#ff4d1a"]},
                "legend": {"title": "Runoff:", "orient": "none", "legendX": 470, "legendY": 138,
                  "symbolType": "stroke", "symbolSize": 1764, "symbolDash": [6, 3], "symbolStrokeWidth": 1.5,
                  "labelOffset": 17, "rowPadding": 0, "titlePadding": -6}}
            }},
            {"transform": [{"filter": "datum.k === 'Glaciermelt'"}], "mark": "line", "encoding": {
              "y": {"field": "v", "type": "quantitative", "scale": {"domain": [0, 1000], "nice": false},
                "axis": {"orient": "right", "title": "Runoff depth (mm)", "titleAngle": 270, "format": "d",
                  "values": [0,50,100,150,200,250,300,350,400,450,500,550,600,650,700,750,800,850,900,950,1000],
                  "labelExpr": "datum.value % 200 === 0 ? datum.label : ''", "tickSize": {"condition": {"test": "datum.value % 200 === 0", "value": 5}, "value": 3}}},
              "stroke": {"datum": "Glaciermelt", "type": "nominal", "legend": null}
            }},
            {"transform": [{"filter": "datum.k === 'Rainfall'"}], "mark": "line", "encoding": {
              "y": {"field": "v", "type": "quantitative", "scale": {"domain": [0, 1000], "nice": false},
                "axis": {"orient": "right", "title": "Runoff depth (mm)", "titleAngle": 270, "format": "d",
                  "values": [0,50,100,150,200,250,300,350,400,450,500,550,600,650,700,750,800,850,900,950,1000],
                  "labelExpr": "datum.value % 200 === 0 ? datum.label : ''", "tickSize": {"condition": {"test": "datum.value % 200 === 0", "value": 5}, "value": 3}}},
              "stroke": {"datum": "Rainfall", "type": "nominal", "legend": null}
            }},
            {"transform": [{"filter": "datum.k === 'Evaporation'"}], "mark": "line", "encoding": {
              "y": {"field": "v", "type": "quantitative", "scale": {"domain": [0, 1000], "nice": false},
                "axis": {"orient": "right", "title": "Runoff depth (mm)", "titleAngle": 270, "format": "d",
                  "values": [0,50,100,150,200,250,300,350,400,450,500,550,600,650,700,750,800,850,900,950,1000],
                  "labelExpr": "datum.value % 200 === 0 ? datum.label : ''", "tickSize": {"condition": {"test": "datum.value % 200 === 0", "value": 5}, "value": 3}}},
              "stroke": {"datum": "Evaporation", "type": "nominal", "legend": null}
            }}
          ]
        }
      ],
      "resolve": {"scale": {"y": "independent"}}
    },
    {
      "bounds": "flush",
      "spacing": 100,
      "hconcat": [
        {
          "width": 370, "height": 294,
          "title": {"text": "B", "dx": -7, "dy": 9},
          "encoding": {
            "x": {"field": "e", "type": "quantitative", "scale": {"domain": [2181.5, 4424], "nice": false, "zero": false},
              "axis": {"title": "Elevation m a.s.l.", "format": "d", "values": [2250,2375,2500,2625,2750,2875,3000,3125,3250,3375,3500,3625,3750,3875,4000,4125,4250,4375],
                "labelExpr": "datum.value % 250 === 0 ? datum.label : ''", "tickSize": {"condition": {"test": "datum.value % 250 === 0", "value": 5}, "value": 3}}}
          },
          "layer": [
            {
              "data": {"name": "areas"},
              "transform": [{"filter": "datum.p === 'B'"}],
              "layer": [
                {"mark": "area", "encoding": {
                  "y": {"field": "s", "type": "quantitative", "scale": {"domain": [0, 100], "nice": false},
                    "axis": {"orient": "left", "title": "Runoff contribution (%)", "format": "d", "values": [0,10,20,30,40,50,60,70,80,90,100],
                      "labelExpr": "datum.value % 20 === 0 ? datum.label : ''", "tickSize": {"condition": {"test": "datum.value % 20 === 0", "value": 5}, "value": 3}}},
                  "y2": {"datum": 0},
                  "fill": {"datum": "Snowmelt", "type": "nominal",
                    "scale": {"domain": ["Snowmelt", "Glaciermelt", "Rainfall"], "range": ["#56ccfa", "#e6e6fa", "#78bc8e"]}, "legend": null}
                }},
                {"mark": "area", "encoding": {
                  "y": {"field": "t", "type": "quantitative", "scale": {"domain": [0, 100], "nice": false},
                    "axis": {"orient": "left", "title": "Runoff contribution (%)", "format": "d", "values": [0,10,20,30,40,50,60,70,80,90,100],
                      "labelExpr": "datum.value % 20 === 0 ? datum.label : ''", "tickSize": {"condition": {"test": "datum.value % 20 === 0", "value": 5}, "value": 3}}},
                  "y2": {"field": "s"},
                  "fill": {"datum": "Glaciermelt", "type": "nominal", "legend": null}
                }},
                {"mark": "area", "encoding": {
                  "y": {"field": "t", "type": "quantitative", "scale": {"domain": [0, 100], "nice": false},
                    "axis": {"orient": "left", "title": "Runoff contribution (%)", "format": "d", "values": [0,10,20,30,40,50,60,70,80,90,100],
                      "labelExpr": "datum.value % 20 === 0 ? datum.label : ''", "tickSize": {"condition": {"test": "datum.value % 20 === 0", "value": 5}, "value": 3}}},
                  "y2": {"datum": 100},
                  "fill": {"datum": "Rainfall", "type": "nominal", "legend": null}
                }}
              ]
            },
            {
              "data": {"name": "lines"},
              "transform": [{"filter": "datum.p === 'B'"}],
              "mark": "line",
              "encoding": {
                "y": {"field": "v", "type": "quantitative", "scale": {"domain": [0, 1000], "nice": false},
                  "axis": {"orient": "right", "title": "Runoff depth (mm)", "titleAngle": 270, "format": "d",
                    "values": [0,50,100,150,200,250,300,350,400,450,500,550,600,650,700,750,800,850,900,950,1000],
                    "labelExpr": "datum.value % 200 === 0 ? datum.label : ''", "tickSize": {"condition": {"test": "datum.value % 200 === 0", "value": 5}, "value": 3}}},
                "stroke": {"field": "k", "type": "nominal",
                  "scale": {"domain": ["Snowmelt", "Glaciermelt", "Rainfall", "Evaporation"], "range": ["#1f9ee8", "#1a1a1a", "#0b9a2a", "#ff4d1a"]}, "legend": null}
              }
            }
          ],
          "resolve": {"scale": {"y": "independent"}}
        },
        {
          "width": 364, "height": 294,
          "title": {"text": "C", "dx": -5, "dy": 9},
          "encoding": {
            "x": {"field": "e", "type": "quantitative", "scale": {"domain": [2185, 4385], "nice": false, "zero": false},
              "axis": {"title": "Elevation m a.s.l.", "format": "d", "values": [2250,2375,2500,2625,2750,2875,3000,3125,3250,3375,3500,3625,3750,3875,4000,4125,4250,4375],
                "labelExpr": "datum.value % 250 === 0 ? datum.label : ''", "tickSize": {"condition": {"test": "datum.value % 250 === 0", "value": 5}, "value": 3}}}
          },
          "layer": [
            {
              "data": {"name": "areas"},
              "transform": [{"filter": "datum.p === 'C'"}],
              "layer": [
                {"mark": "area", "encoding": {
                  "y": {"field": "s", "type": "quantitative", "scale": {"domain": [0, 100], "nice": false},
                    "axis": {"orient": "left", "title": "Runoff contribution (%)", "format": "d", "values": [0,10,20,30,40,50,60,70,80,90,100],
                      "labelExpr": "datum.value % 20 === 0 ? datum.label : ''", "tickSize": {"condition": {"test": "datum.value % 20 === 0", "value": 5}, "value": 3}}},
                  "y2": {"datum": 0},
                  "fill": {"datum": "Snowmelt", "type": "nominal",
                    "scale": {"domain": ["Snowmelt", "Glaciermelt", "Rainfall"], "range": ["#56ccfa", "#e6e6fa", "#78bc8e"]}, "legend": null}
                }},
                {"mark": "area", "encoding": {
                  "y": {"field": "t", "type": "quantitative", "scale": {"domain": [0, 100], "nice": false},
                    "axis": {"orient": "left", "title": "Runoff contribution (%)", "format": "d", "values": [0,10,20,30,40,50,60,70,80,90,100],
                      "labelExpr": "datum.value % 20 === 0 ? datum.label : ''", "tickSize": {"condition": {"test": "datum.value % 20 === 0", "value": 5}, "value": 3}}},
                  "y2": {"field": "s"},
                  "fill": {"datum": "Glaciermelt", "type": "nominal", "legend": null}
                }},
                {"mark": "area", "encoding": {
                  "y": {"field": "t", "type": "quantitative", "scale": {"domain": [0, 100], "nice": false},
                    "axis": {"orient": "left", "title": "Runoff contribution (%)", "format": "d", "values": [0,10,20,30,40,50,60,70,80,90,100],
                      "labelExpr": "datum.value % 20 === 0 ? datum.label : ''", "tickSize": {"condition": {"test": "datum.value % 20 === 0", "value": 5}, "value": 3}}},
                  "y2": {"datum": 100},
                  "fill": {"datum": "Rainfall", "type": "nominal", "legend": null}
                }}
              ]
            },
            {
              "data": {"name": "lines"},
              "transform": [{"filter": "datum.p === 'C'"}],
              "mark": "line",
              "encoding": {
                "y": {"field": "v", "type": "quantitative", "scale": {"domain": [0, 1000], "nice": false},
                  "axis": {"orient": "right", "title": "Runoff depth (mm)", "titleAngle": 270, "format": "d",
                    "values": [0,50,100,150,200,250,300,350,400,450,500,550,600,650,700,750,800,850,900,950,1000],
                    "labelExpr": "datum.value % 200 === 0 ? datum.label : ''", "tickSize": {"condition": {"test": "datum.value % 200 === 0", "value": 5}, "value": 3}}},
                "stroke": {"field": "k", "type": "nominal",
                  "scale": {"domain": ["Snowmelt", "Glaciermelt", "Rainfall", "Evaporation"], "range": ["#1f9ee8", "#1a1a1a", "#0b9a2a", "#ff4d1a"]}, "legend": null}
              }
            }
          ],
          "resolve": {"scale": {"y": "independent"}}
        }
      ]
    }
  ]
}
